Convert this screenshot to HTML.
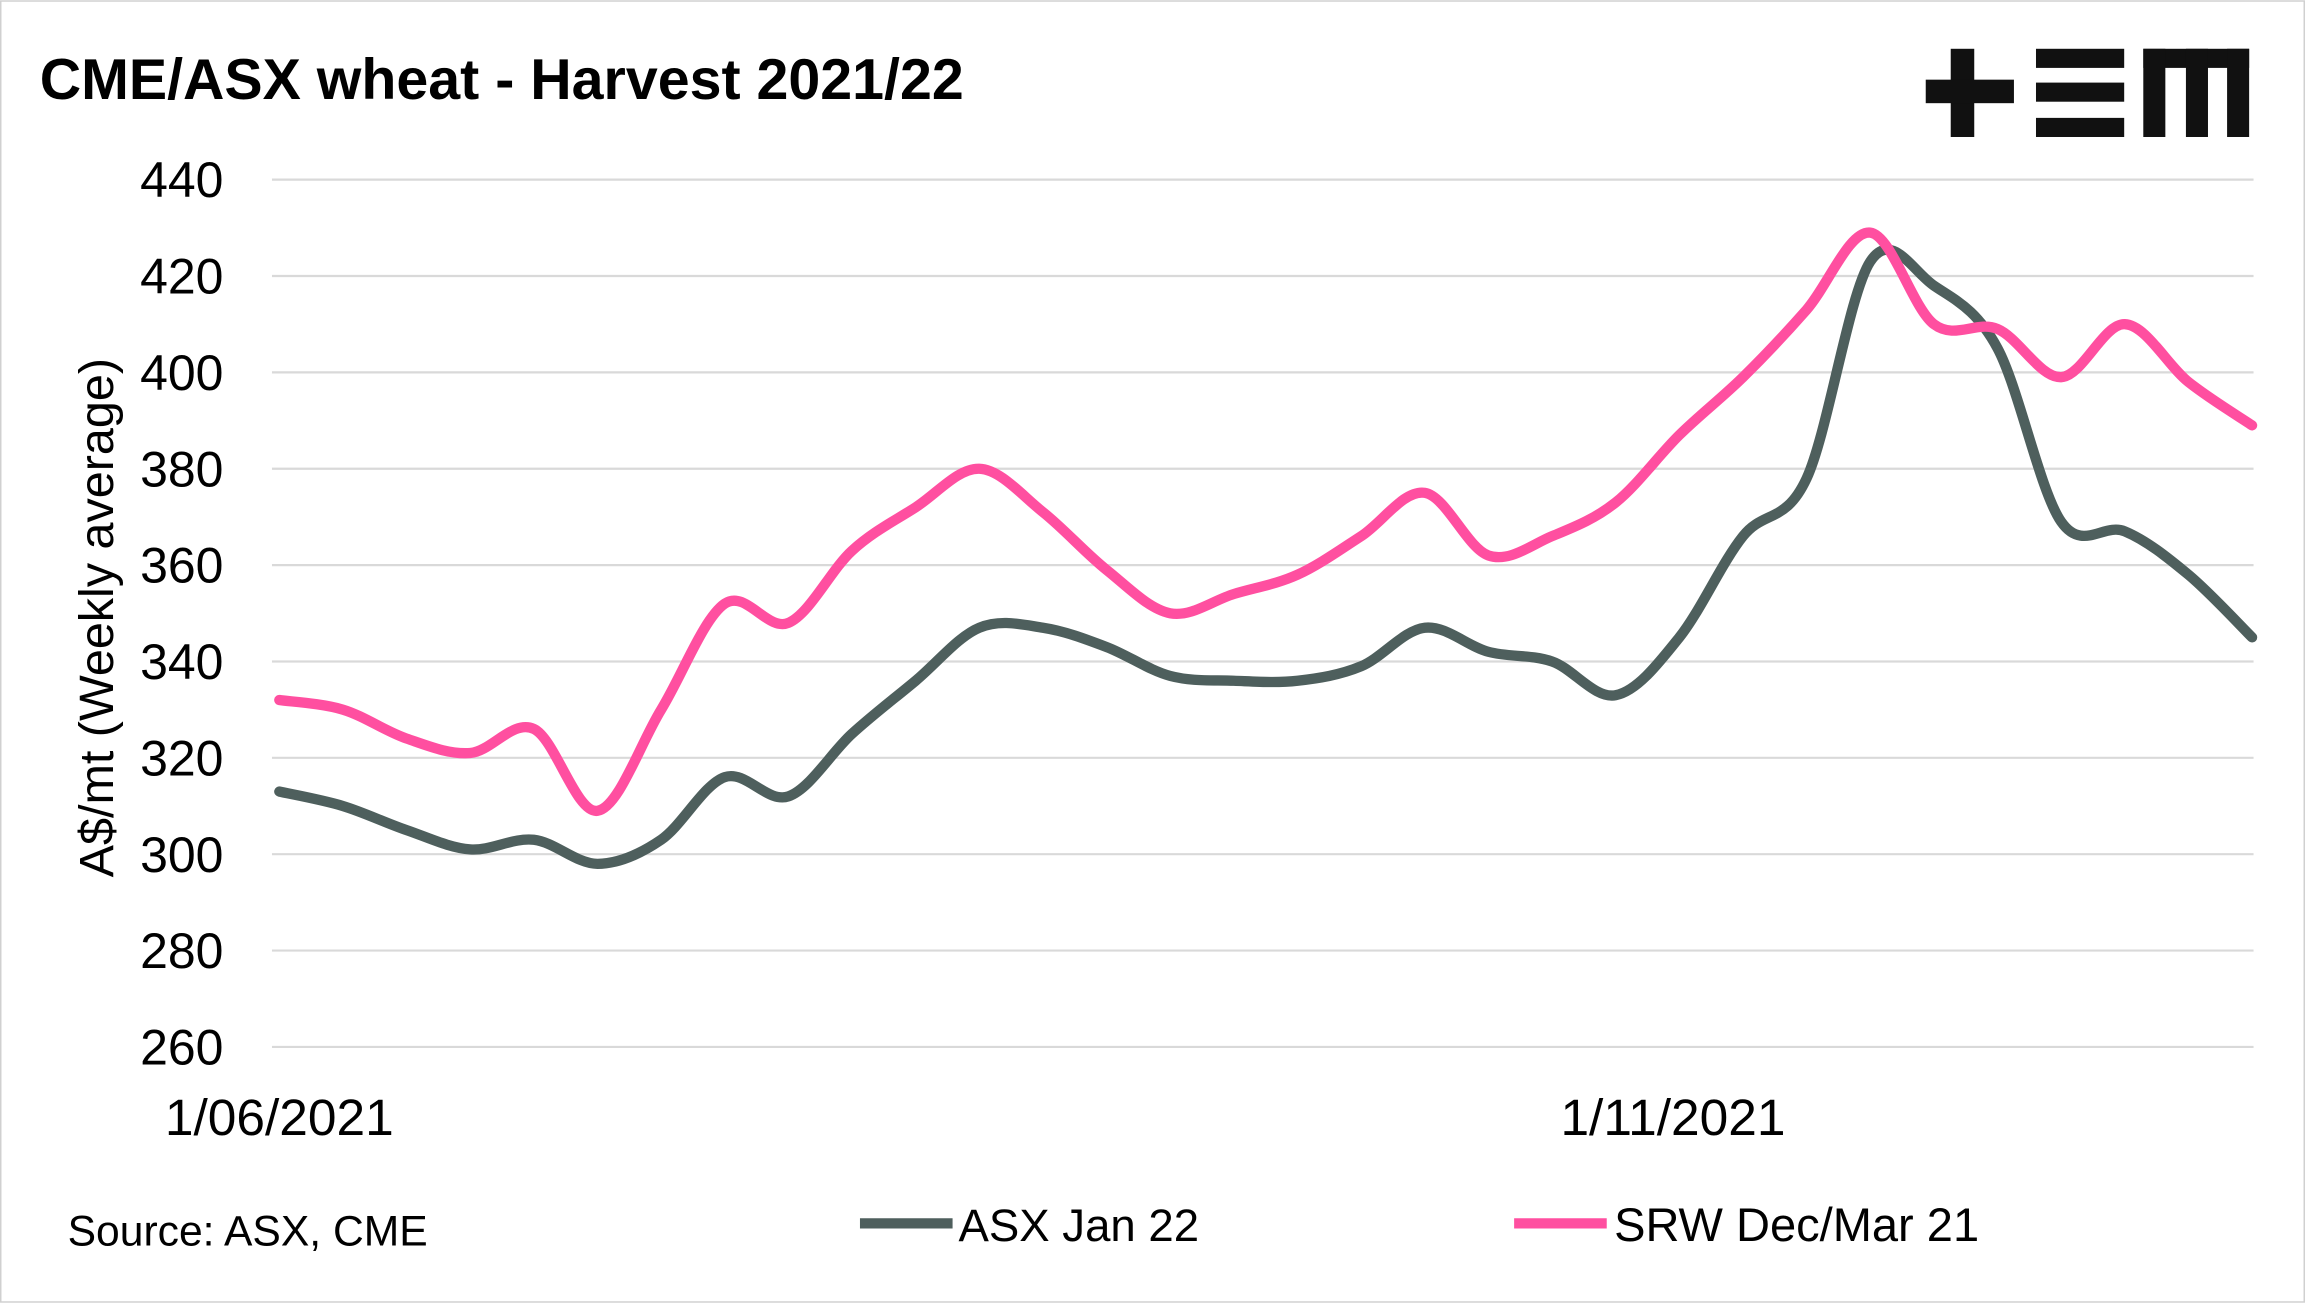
<!DOCTYPE html>
<html><head><meta charset="utf-8"><style>
html,body{margin:0;padding:0;background:#fff}
svg{display:block}
text{font-family:"Liberation Sans",sans-serif;fill:#000}
</style></head><body>
<svg id="chart" width="2305" height="1303" viewBox="0 0 1568 886" xmlns="http://www.w3.org/2000/svg">
<rect x="0.5" y="0.5" width="1567" height="885" fill="#fff" stroke="#d0d0d0"/>
<text x="27" y="67" font-size="39" font-weight="bold">CME/ASX wheat - Harvest 2021/22</text>
<g fill="#111">
<rect x="1327" y="33" width="16" height="60"/><rect x="1310" y="54" width="60" height="16"/>
<rect x="1385" y="33" width="60" height="13"/><rect x="1385" y="56" width="60" height="13"/><rect x="1385" y="80" width="60" height="13"/>
<rect x="1458" y="33" width="72" height="13"/><rect x="1458" y="33" width="15" height="60"/><rect x="1487" y="33" width="15" height="60"/><rect x="1515" y="33" width="15" height="60"/>
</g>
<g id="grid"></g><g id="yticks"></g>
<text transform="translate(77,420) rotate(-90)" text-anchor="middle" font-size="33">A$/mt (Weekly average)</text>
<g id="xticks"></g><g id="series"></g>
<text x="46" y="847" font-size="29">Source: ASX, CME</text>
<g>
<g><line x1="585" y1="832" x2="648" y2="832" stroke="#4e5f5d" stroke-width="7"/><text x="652" y="844" font-size="31">ASX Jan 22</text></g>
<g><line x1="1030" y1="832" x2="1093" y2="832" stroke="#ff4fa0" stroke-width="7"/><text x="1098" y="844" font-size="32">SRW Dec/Mar 21</text></g>
</g>
</svg>
<script>
const yTicks=[260,280,300,320,340,360,380,400,420,440];
const xLabels=["1/06/2021","1/11/2021"];
const xLabelIdx=[0,21.9];
const asx=[313,310,305,301,303,298,303,316,312,325,336,347,347,343,337,336,336,339,347,342,340,333,345,366,378,423,418,405,369,367,358,345];
const srw=[332,330,324,321,326,309,330,352,348,363,372,380,371,359,350,354,358,366,375,362,366,373,387,399,413,429,410,409,399,410,398,389];
const NS="http://www.w3.org/2000/svg";
const X0=190,X1=1532,Y0=712,Y1=122;
const n=asx.length;
const xs=i=>X0+(X1-X0)*i/(n-1);
const ys=v=>Y0-(v-260)/(440-260)*(Y0-Y1);
function mk(t,a,p){const e=document.createElementNS(NS,t);for(const k in a)e.setAttribute(k,a[k]);p.appendChild(e);return e;}
const g=document.getElementById('grid'),yt=document.getElementById('yticks');
yTicks.forEach(v=>{
 const l=mk('line',{x1:185,x2:1533,y1:ys(v),y2:ys(v),stroke:'#d9d9d9','stroke-width':1.5},g);
 
 
 const t=mk('text',{x:152,y:ys(v)+12,'text-anchor':'end','font-size':34},yt);t.textContent=v;
 
 
});
const xt=document.getElementById('xticks');
xLabels.forEach((s,i)=>{const t=mk('text',{x:xs(xLabelIdx[i]),y:772,'text-anchor':'middle','font-size':35},xt);t.textContent=s;
 
 });
function path(d){const p=d.map((v,i)=>[xs(i),ys(v)]);let s=`M${p[0][0]},${p[0][1]}`;
 for(let i=0;i<p.length-1;i++){const a=p[Math.max(0,i-1)],b=p[i],c=p[i+1],e=p[Math.min(p.length-1,i+2)];
 s+=` C${b[0]+(c[0]-a[0])/6},${b[1]+(c[1]-a[1])/6} ${c[0]-(e[0]-b[0])/6},${c[1]-(e[1]-b[1])/6} ${c[0]},${c[1]}`;}return s;}
const sg=document.getElementById('series');
const l1=mk('path',{d:path(asx),fill:'none',stroke:'#4e5f5d','stroke-width':7,'stroke-linecap':'round'},sg);


const l2=mk('path',{d:path(srw),fill:'none',stroke:'#ff4fa0','stroke-width':7,'stroke-linecap':'round'},sg);


</script>
</body></html>
